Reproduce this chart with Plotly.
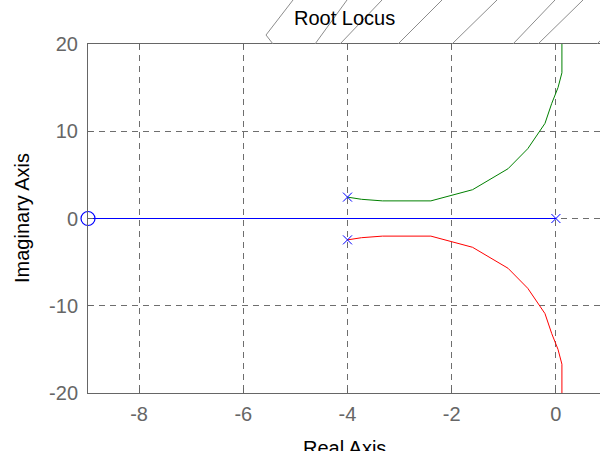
import plotly.graph_objects as go

# Data
real_axis_x = [-9.0, 0.0]
real_axis_y = [0.0, 0.0]

branch_x = [-4.0, -3.73, -3.33, -2.40, -1.60, -0.92, -0.54, -0.21, -0.08, 0.04, 0.115, 0.115]
branch_up_y = [2.45, 2.2, 2.02, 2.02, 3.3, 5.7, 8.0, 10.9, 13.2, 15.0, 16.7, 30.0]
branch_dn_y = [-v for v in branch_up_y]

pole_x = [-4.0, -4.0, 0.0]
pole_y = [2.45, -2.45, 0.0]
zero_x = [-8.98]
zero_y = [0.0]

x_ticks = [-8, -6, -4, -2, 0]
y_ticks = [-20, -10, 0, 10, 20]

# hatch decoration above the axes, in pixels (x0, y0, x1, y1)
hatch_px = [
    (266, 35, 273, 44), (266, 35, 293, 0), (315, 44, 347, 0), (340, 44, 382, 0),
    (398, 44, 442, 0), (452, 44, 497, 0), (513, 44, 555, 0), (538, 44, 583, 0),
    (597, 44, 640, 0),
]

W, H = 600, 451
L, R, T, B = 88, 0, 44, 58
pw, ph = W - L - R, H - T - B

def px_x(p):
    return (p - L) / pw

def px_y(p):
    return (H - B - p) / ph

fig = go.Figure()
fig.add_trace(go.Scatter(x=real_axis_x, y=real_axis_y, mode="lines",
                         line=dict(color="#0000ff", width=1), hoverinfo="skip"))
fig.add_trace(go.Scatter(x=branch_x, y=branch_up_y, mode="lines",
                         line=dict(color="#008000", width=1), hoverinfo="skip"))
fig.add_trace(go.Scatter(x=branch_x, y=branch_dn_y, mode="lines",
                         line=dict(color="#ff0000", width=1), hoverinfo="skip"))
fig.add_trace(go.Scatter(x=pole_x, y=pole_y, mode="markers",
                         marker=dict(symbol="x-thin-open", size=9, color="#0000ff",
                                     line=dict(color="#0000ff", width=1)),
                         hoverinfo="skip"))
fig.add_trace(go.Scatter(x=zero_x, y=zero_y, mode="markers", cliponaxis=False,
                         marker=dict(symbol="circle-open", size=14, color="#0000ff",
                                     line=dict(color="#0000ff", width=1.2)),
                         hoverinfo="skip"))

shapes = []
for (x0, y0, x1, y1) in hatch_px:
    shapes.append(dict(type="line", xref="paper", yref="paper",
                       x0=px_x(x0), y0=px_y(y0), x1=px_x(x1), y1=px_y(y1),
                       line=dict(color="#8c8c8c", width=1)))

FONT = "Liberation Sans, Arial, sans-serif"
annotations = [
    dict(text="Root Locus", xref="paper", yref="paper", x=px_x(344), y=px_y(18),
         xanchor="center", yanchor="middle", showarrow=False,
         font=dict(family=FONT, size=20, color="#000000")),
    dict(text="Imaginary Axis", xref="paper", yref="paper", x=px_x(22), y=px_y(218),
         xanchor="center", yanchor="middle", textangle=-90, showarrow=False,
         font=dict(family=FONT, size=20, color="#000000")),
    dict(text="Real Axis", xref="paper", yref="paper", x=px_x(344), y=px_y(435),
         xanchor="center", yanchor="top", showarrow=False,
         font=dict(family=FONT, size=20, color="#000000")),
]

fig.update_layout(
    width=W, height=H,
    margin=dict(l=L, r=R, t=T, b=B, autoexpand=False),
    paper_bgcolor="white", plot_bgcolor="white",
    showlegend=False,
    font=dict(family=FONT, size=20, color="#666666"),
    shapes=shapes,
    annotations=annotations,
)
fig.update_xaxes(range=[-8.98, 0.846], tickvals=x_ticks, ticktext=[str(v) for v in x_ticks],
                 showgrid=True, gridcolor="#6e6e6e", griddash="6px,5px", gridwidth=1,
                 zeroline=False, showline=True, linecolor="#666666", linewidth=1,
                 mirror="ticks", ticks="inside", ticklen=5, tickcolor="#666666",
                 automargin=False, ticklabelstandoff=3)
fig.update_yaxes(range=[-20, 20], tickvals=y_ticks, ticktext=[str(v) for v in y_ticks],
                 showgrid=True, gridcolor="#6e6e6e", griddash="6px,5px", gridwidth=1,
                 zeroline=False, showline=True, linecolor="#666666", linewidth=1,
                 mirror=False, ticks="inside", ticklen=5, tickcolor="#666666",
                 automargin=False, ticklabelstandoff=5)

fig.write_html("out.html", config={"displayModeBar": False},
               post_script="document.body.style.margin='0';document.body.style.overflow='hidden';")
